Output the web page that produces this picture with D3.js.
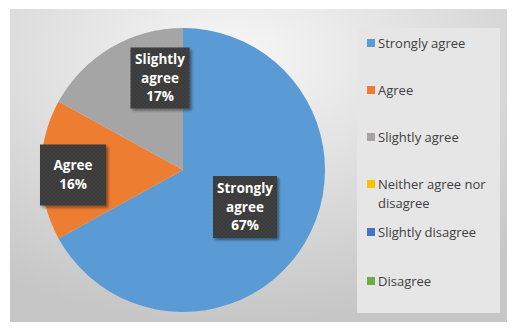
<!DOCTYPE html>
<html>
<head>
<meta charset="utf-8">
<script src="https://cdn.jsdelivr.net/npm/d3@7/dist/d3.min.js"></script>
<style>
  body { margin: 0; background: #fff; }
  svg { display: block; font-family: "Open Sans", "Noto Sans", sans-serif; }
</style>
</head>
<body>
<div id="chart"></div>
<script>
// data
var categories = ['Strongly agree', 'Agree', 'Slightly agree', 'Neither agree nor disagree', 'Slightly disagree', 'Disagree'];
var values = [67, 16, 17, 0, 0, 0];
var colors = ['#5b9bd5', '#ed7d31', '#a5a5a5', '#ffc000', '#4472c4', '#70ad47'];
var labelLines = [['Strongly', 'agree', '67%'], ['Agree', '16%'], ['Slightly', 'agree', '17%'], [], [], []];
var legendLines = [['Strongly agree'], ['Agree'], ['Slightly agree'], ['Neither agree nor', 'disagree'], ['Slightly disagree'], ['Disagree']];

var width = 519, height = 336;
var svg = d3.select('#chart').append('svg')
    .attr('width', width)
    .attr('height', height);

var defs = svg.append('defs');
// chart background gradient
var bg = defs.append('radialGradient').attr('id', 'bgGrad')
    .attr('cx', '45%').attr('cy', '15%').attr('r', '85%');
bg.append('stop').attr('offset', '0%').attr('stop-color', '#f7f7f7');
bg.append('stop').attr('offset', '100%').attr('stop-color', '#c6c6c6');

// dotted dark label fill
var pat = defs.append('pattern').attr('id', 'dots')
    .attr('width', 4).attr('height', 4).attr('patternUnits', 'userSpaceOnUse');
pat.append('rect').attr('width', 4).attr('height', 4).attr('fill', '#3a3a3a');
pat.append('circle').attr('cx', 1).attr('cy', 1).attr('r', 0.7).attr('fill', '#4a4a4a');
pat.append('circle').attr('cx', 3).attr('cy', 3).attr('r', 0.7).attr('fill', '#4a4a4a');

var shadow = defs.append('filter').attr('id', 'shadow')
    .attr('x', '-20%').attr('y', '-20%').attr('width', '150%').attr('height', '150%');
shadow.append('feDropShadow').attr('dx', 2).attr('dy', 2).attr('stdDeviation', 1.5)
    .attr('flood-color', '#000').attr('flood-opacity', 0.45);

svg.append('rect')
    .attr('x', 10).attr('y', 9)
    .attr('width', 497).attr('height', 313)
    .attr('fill', 'url(#bgGrad)');

// pie
var cx = 183, cy = 170, radius = 142;
var pie = d3.pie().sort(null).value(d => d);
var arcs = pie(values);
var arc = d3.arc().innerRadius(0).outerRadius(radius);

var pieG = svg.append('g').attr('transform', `translate(${cx},${cy})`);
pieG.selectAll('path')
    .data(arcs).enter().append('path')
    .filter(d => d.value > 0)
    .attr('d', arc)
    .attr('fill', (d, i) => colors[d.index]);

// data labels
var labelPos = [[245, 207], [73, 175], [160, 78]];
var boxSizes = [[64, 62], [66, 61], [59, 61]];
var lineH = 18.5;
arcs.forEach(function(d, i) {
    if (d.value <= 0) return;
    var lines = labelLines[i];
    var p = labelPos[i], s = boxSizes[i];
    var g = svg.append('g').attr('transform', `translate(${p[0]},${p[1]})`);
    g.append('rect')
        .attr('x', -s[0] / 2).attr('y', -s[1] / 2)
        .attr('width', s[0]).attr('height', s[1])
        .attr('fill', 'url(#dots)')
        .attr('filter', 'url(#shadow)');
    g.selectAll('text')
        .data(lines).enter().append('text')
        .attr('x', 0)
        .attr('y', (t, j) => (j - (lines.length - 1) / 2) * lineH)
        .attr('dy', '0.35em')
        .attr('text-anchor', 'middle')
        .attr('fill', '#fff')
        .attr('font-weight', 'bold')
        .attr('font-size', 13.5)
        .text(t => t);
});

// legend
svg.append('rect')
    .attr('x', 357).attr('y', 28)
    .attr('width', 143).attr('height', 285)
    .attr('fill', '#e6e6e6');

var legendY = d3.scalePoint().domain(d3.range(categories.length)).range([43, 281]);
var legendYs = [43, 90, 137, 184, 232, 281];
var legend = svg.append('g');
categories.forEach(function(c, i) {
    var y = legendYs[i];
    legend.append('rect')
        .attr('x', 367).attr('y', y - 4)
        .attr('width', 8).attr('height', 8)
        .attr('fill', colors[i]);
    legendLines[i].forEach(function(t, j) {
        legend.append('text')
            .attr('x', 378).attr('y', y + j * 19)
            .attr('dy', '0.35em')
            .attr('font-size', 13)
            .attr('fill', '#404040')
            .text(t);
    });
});
</script>
</body>
</html>
